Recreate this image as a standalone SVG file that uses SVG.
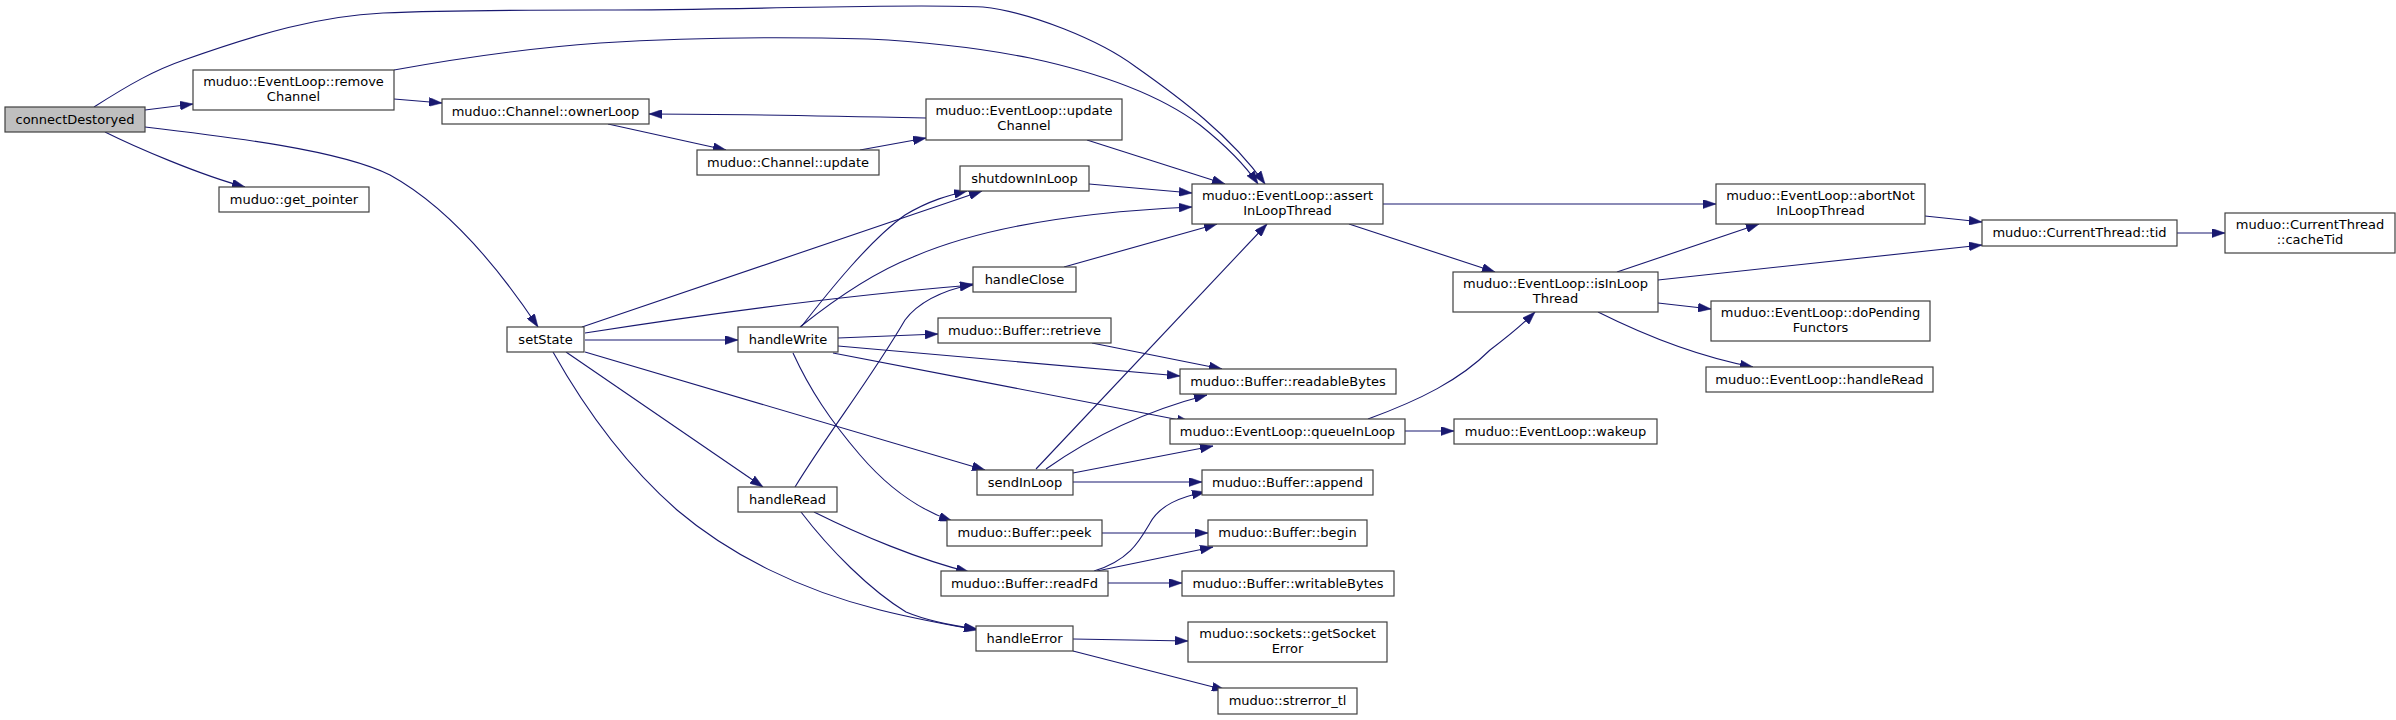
<svg xmlns="http://www.w3.org/2000/svg" width="2396" height="720" viewBox="0 0 2396 720">
<style>
.n rect{fill:#ffffff;stroke:#404040;stroke-width:1.2}
.n.root rect{fill:#bfbfbf}
.n text{font-family:"DejaVu Sans","Liberation Sans",sans-serif;font-size:13px;fill:#000000;text-anchor:middle}
#edges path{fill:none;stroke:#191970;stroke-width:1.1;marker-end:url(#ah)}
</style>
<defs>
<marker id="ah" markerUnits="userSpaceOnUse" viewBox="0 0 13 9" refX="13" refY="4.5" markerWidth="13" markerHeight="9" orient="auto">
<path d="M0,0 L13,4.5 L0,9 z" fill="#191970" stroke="#191970" stroke-width="0.5"/>
</marker>
</defs>
<rect width="2396" height="720" fill="#ffffff"/>
<g id="edges">
<path d="M94,107 C130,84 155,70 184,60 C260,33 320,16 383,13 C450,10 530,10 600,10 C760,10 900,3 983,7 C1030,12 1100,40 1136,67 C1180,98 1230,135 1265,184"/>
<path d="M145,110 L193,104"/>
<path d="M105,132 C135,147 200,175 245,187"/>
<path d="M145,127 C230,137 340,150 390,175 C450,208 500,270 538,327"/>
<path d="M394,70 C460,58 530,48 600,43 C680,38 760,36 868,39 C930,42 980,48 1030,58 C1100,73 1160,95 1200,125 C1225,145 1245,165 1258,184"/>
<path d="M394,99 L442,103"/>
<path d="M860,150 L926,138"/>
<path d="M608,124 L726,150"/>
<path d="M926,118 C830,116 730,114 649,114"/>
<path d="M1087,140 L1225,184"/>
<path d="M1089,184 L1192,193"/>
<path d="M1064,267 L1217,224"/>
<path d="M800,327 C840,295 880,270 913,257 C980,228 1080,212 1192,207"/>
<path d="M801,327 C830,290 870,240 905,215 C930,200 950,195 967,191"/>
<path d="M795,487 C830,430 870,380 905,320 C920,300 945,290 973,284"/>
<path d="M582,327 L982,191"/>
<path d="M585,333 C700,315 850,295 973,285"/>
<path d="M585,340 L738,340"/>
<path d="M585,352 L985,470"/>
<path d="M566,352 L763,487"/>
<path d="M553,352 C580,400 620,460 677,510 C730,555 800,590 880,610 C920,620 950,625 977,630"/>
<path d="M838,338 L938,334"/>
<path d="M838,346 L1180,376"/>
<path d="M833,353 C950,375 1100,405 1190,422"/>
<path d="M793,353 C810,390 830,420 860,455 C890,490 920,510 952,521"/>
<path d="M814,512 C860,535 920,560 969,572"/>
<path d="M801,512 C830,550 870,590 906,612 C930,622 955,626 977,629"/>
<path d="M1036,469 L1267,224"/>
<path d="M1046,469 C1080,445 1130,415 1207,395"/>
<path d="M1073,473 L1213,446"/>
<path d="M1073,482 L1202,482"/>
<path d="M1102,533 L1208,533"/>
<path d="M1094,571 C1130,560 1140,540 1150,523 C1160,505 1180,497 1205,492"/>
<path d="M1097,571 L1213,547"/>
<path d="M1108,583 L1182,583"/>
<path d="M1073,639 L1188,641"/>
<path d="M1073,651 L1225,690"/>
<path d="M1092,343 L1222,369"/>
<path d="M1383,204 L1716,204"/>
<path d="M1349,224 L1495,272"/>
<path d="M1617,272 L1759,224"/>
<path d="M1658,280 L1982,245"/>
<path d="M1658,303 L1711,309"/>
<path d="M1598,312 C1630,328 1690,355 1753,367"/>
<path d="M1368,419 C1420,400 1460,380 1490,350 C1510,335 1525,322 1535,312"/>
<path d="M1405,431 L1454,431"/>
<path d="M1925,216 L1982,222"/>
<path d="M2177,233 L2225,233"/>
</g>
<g id="connectDestoryed" class="n root"><rect x="5" y="107" width="140" height="25"/><text x="75" y="123.5">connectDestoryed</text></g>
<g id="removeChannel" class="n"><rect x="193" y="70" width="201" height="40"/><text x="293.5" y="86">muduo::EventLoop::remove</text><text x="293.5" y="101">Channel</text></g>
<g id="ownerLoop" class="n"><rect x="442" y="99" width="207" height="25"/><text x="545.5" y="115.5">muduo::Channel::ownerLoop</text></g>
<g id="get_pointer" class="n"><rect x="219" y="187" width="150" height="25"/><text x="294" y="203.5">muduo::get_pointer</text></g>
<g id="setState" class="n"><rect x="507" y="327" width="77" height="25"/><text x="545.5" y="343.5">setState</text></g>
<g id="channelUpdate" class="n"><rect x="697" y="150" width="182" height="25"/><text x="788" y="166.5">muduo::Channel::update</text></g>
<g id="updateChannel" class="n"><rect x="926" y="99" width="196" height="41"/><text x="1024" y="115">muduo::EventLoop::update</text><text x="1024" y="130">Channel</text></g>
<g id="shutdownInLoop" class="n"><rect x="960" y="166" width="129" height="25"/><text x="1024.5" y="182.5">shutdownInLoop</text></g>
<g id="handleClose" class="n"><rect x="973" y="267" width="103" height="25"/><text x="1024.5" y="283.5">handleClose</text></g>
<g id="retrieve" class="n"><rect x="938" y="318" width="173" height="25"/><text x="1024.5" y="334.5">muduo::Buffer::retrieve</text></g>
<g id="handleWrite" class="n"><rect x="738" y="327" width="100" height="25"/><text x="788" y="343.5">handleWrite</text></g>
<g id="handleRead" class="n"><rect x="738" y="487" width="99" height="25"/><text x="787.5" y="503.5">handleRead</text></g>
<g id="sendInLoop" class="n"><rect x="977" y="470" width="96" height="25"/><text x="1025" y="486.5">sendInLoop</text></g>
<g id="peek" class="n"><rect x="947" y="520" width="155" height="26"/><text x="1024.5" y="537">muduo::Buffer::peek</text></g>
<g id="readFd" class="n"><rect x="941" y="571" width="167" height="25"/><text x="1024.5" y="587.5">muduo::Buffer::readFd</text></g>
<g id="handleError" class="n"><rect x="976" y="626" width="97" height="25"/><text x="1024.5" y="642.5">handleError</text></g>
<g id="assertInLoopThread" class="n"><rect x="1192" y="184" width="191" height="40"/><text x="1287.5" y="200">muduo::EventLoop::assert</text><text x="1287.5" y="215">InLoopThread</text></g>
<g id="readableBytes" class="n"><rect x="1180" y="369" width="216" height="25"/><text x="1288" y="385.5">muduo::Buffer::readableBytes</text></g>
<g id="queueInLoop" class="n"><rect x="1170" y="419" width="235" height="25"/><text x="1287.5" y="435.5">muduo::EventLoop::queueInLoop</text></g>
<g id="append" class="n"><rect x="1202" y="470" width="171" height="25"/><text x="1287.5" y="486.5">muduo::Buffer::append</text></g>
<g id="begin" class="n"><rect x="1208" y="520" width="159" height="26"/><text x="1287.5" y="537">muduo::Buffer::begin</text></g>
<g id="writableBytes" class="n"><rect x="1182" y="571" width="212" height="25"/><text x="1288" y="587.5">muduo::Buffer::writableBytes</text></g>
<g id="getSocketError" class="n"><rect x="1188" y="622" width="199" height="40"/><text x="1287.5" y="638">muduo::sockets::getSocket</text><text x="1287.5" y="653">Error</text></g>
<g id="strerror_tl" class="n"><rect x="1218" y="688" width="139" height="26"/><text x="1287.5" y="705">muduo::strerror_tl</text></g>
<g id="isInLoopThread" class="n"><rect x="1453" y="272" width="205" height="40"/><text x="1555.5" y="288">muduo::EventLoop::isInLoop</text><text x="1555.5" y="303">Thread</text></g>
<g id="wakeup" class="n"><rect x="1454" y="419" width="203" height="25"/><text x="1555.5" y="435.5">muduo::EventLoop::wakeup</text></g>
<g id="abortNotInLoopThread" class="n"><rect x="1716" y="184" width="209" height="40"/><text x="1820.5" y="200">muduo::EventLoop::abortNot</text><text x="1820.5" y="215">InLoopThread</text></g>
<g id="doPendingFunctors" class="n"><rect x="1711" y="301" width="219" height="40"/><text x="1820.5" y="317">muduo::EventLoop::doPending</text><text x="1820.5" y="332">Functors</text></g>
<g id="eventLoopHandleRead" class="n"><rect x="1706" y="367" width="227" height="25"/><text x="1819.5" y="383.5">muduo::EventLoop::handleRead</text></g>
<g id="tid" class="n"><rect x="1982" y="220" width="195" height="26"/><text x="2079.5" y="237">muduo::CurrentThread::tid</text></g>
<g id="cacheTid" class="n"><rect x="2225" y="213" width="170" height="40"/><text x="2310" y="229">muduo::CurrentThread</text><text x="2310" y="244">::cacheTid</text></g>
</svg>
